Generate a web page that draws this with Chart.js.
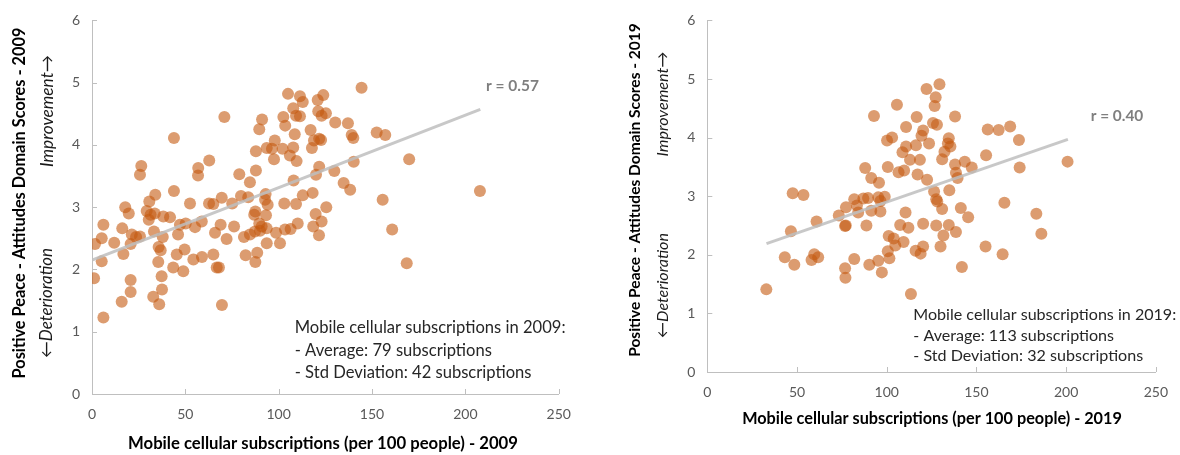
<!DOCTYPE html>
<html>
<head>
<meta charset="utf-8">
<script src="https://cdn.jsdelivr.net/npm/chart.js@4.4.1/dist/chart.umd.min.js"></script>
<style>
    html, body { margin: 0; padding: 0; background: #fff; }
    #wrap { position: relative; width: 1180px; height: 455px; }
    .box { position: absolute; top: 0; width: 590px; height: 455px; }
    #box2009 { left: 0; }
    #box2019 { left: 590px; }
</style>
</head>
<body>
<div id="wrap">
    <div class="box" id="box2009"><canvas id="chart2009" width="590" height="455"></canvas></div>
    <div class="box" id="box2019"><canvas id="chart2019" width="590" height="455"></canvas></div>
</div>
<script>
// ---------- datos ----------
const subs2009 = [
    144.4, 105.0, 111.4, 112.9, 120.9, 123.9, 107.8, 102.5, 109.3, 111.4,
    121.2, 123.0, 125.3, 130.3, 137.1, 70.9, 91.1, 89.6, 103.5, 108.6,
    117.1, 118.9, 121.7, 122.7, 139.1, 140.0, 43.9, 97.9, 93.6, 96.4,
    87.8, 102.1, 107.8, 106.0, 109.6, 97.5, 117.8, 62.8, 56.9, 56.8,
    87.8, 78.9, 84.6, 108.0, 121.7, 120.0, 129.8, 140.2, 134.8, 138.3,
    43.9, 69.5, 65.0, 62.7, 75.1, 79.8, 83.7, 93.0, 92.7, 94.1,
    52.5, 103.0, 109.3, 112.9, 118.2, 125.5, 119.8, 123.0, 118.5, 121.6,
    87.5, 86.9, 93.2, 89.6, 90.9, 93.6, 90.0, 76.1, 68.9, 65.9,
    58.8, 55.2, 50.2, 47.1, 41.8, 46.1, 72.1, 81.4, 84.6, 87.3,
    98.6, 103.4, 106.4, 110.2, 93.6, 100.7, 49.6, 45.4, 43.5, 65.0,
    58.9, 54.3, 48.9, 66.8, 68.0, 82.3, 88.5, 87.5, 26.4, 25.7,
    33.9, 30.7, 17.8, 19.7, 29.3, 31.4, 30.4, 33.6, 38.2, 6.1,
    1.6, 5.2, 11.9, 5.2, 1.1, 16.8, 16.2, 21.3, 20.7, 23.6,
    25.7, 20.7, 20.7, 15.9, 6.1, 32.8, 36.0, 37.5, 37.3, 35.5,
    36.8, 35.7, 33.2, 37.9, 69.6, 152.5, 157.1, 169.9, 207.8, 155.7,
    160.8, 168.6
];
const score2009 = [
    4.92, 4.82, 4.78, 4.69, 4.72, 4.80, 4.59, 4.45, 4.47, 4.46,
    4.54, 4.47, 4.51, 4.36, 4.35, 4.45, 4.41, 4.25, 4.31, 4.17,
    4.24, 4.07, 4.10, 4.08, 4.16, 4.11, 4.11, 4.07, 3.95, 3.94,
    3.90, 3.94, 3.96, 3.83, 3.74, 3.77, 3.95, 3.75, 3.63, 3.51,
    3.59, 3.53, 3.40, 3.43, 3.65, 3.52, 3.58, 3.73, 3.39, 3.28,
    3.26, 3.15, 3.05, 3.06, 3.06, 3.18, 3.16, 3.21, 3.12, 3.04,
    3.06, 3.06, 3.05, 3.19, 3.23, 3.00, 2.89, 2.77, 2.69, 2.55,
    2.93, 2.88, 2.87, 2.74, 2.69, 2.66, 2.62, 2.69, 2.72, 2.59,
    2.77, 2.68, 2.74, 2.72, 2.84, 2.56, 2.49, 2.52, 2.56, 2.61,
    2.59, 2.64, 2.65, 2.74, 2.42, 2.42, 2.32, 2.24, 2.03, 2.24,
    2.20, 2.16, 1.97, 2.03, 2.03, 2.23, 2.27, 2.12, 3.66, 3.52,
    3.20, 3.09, 3.00, 2.90, 2.94, 2.88, 2.80, 2.90, 2.85, 2.72,
    2.41, 2.50, 2.43, 2.13, 1.86, 2.25, 2.66, 2.56, 2.41, 2.52,
    2.53, 1.83, 1.64, 1.48, 1.23, 1.56, 1.44, 1.68, 1.89, 2.12,
    2.31, 2.36, 2.61, 2.52, 1.43, 4.20, 4.16, 3.77, 3.26, 3.12,
    2.64, 2.10
];

const subs2019 = [
    32.9, 43.2, 48.5, 46.6, 47.6, 53.6, 59.6, 58.1, 61.8, 60.9,
    73.3, 77.3, 76.8, 77.2, 76.8, 77.0, 81.9, 81.9, 83.4, 84.1,
    87.0, 89.6, 95.3, 98.9, 96.5, 96.5, 91.4, 88.7, 92.9, 88.0,
    91.4, 95.7, 90.3, 95.3, 97.3, 129.4, 122.2, 127.3, 126.7, 105.7,
    116.7, 138.1, 110.8, 125.8, 128.0, 120.3, 119.4, 123.6, 103.0, 100.2,
    110.8, 108.8, 116.3, 134.6, 134.1, 135.5, 132.2, 130.9, 113.0, 118.5,
    100.6, 106.6, 109.7, 117.2, 122.5, 138.1, 138.6, 139.5, 143.5, 134.9,
    126.4, 127.6, 130.9, 141.3, 110.5, 107.5, 112.1, 120.3, 127.6, 134.6,
    138.6, 131.6, 101.1, 103.9, 109.4, 104.8, 130.0, 120.3, 116.1, 118.9,
    100.6, 101.5, 141.9, 113.5, 156.3, 162.4, 168.8, 173.7, 200.8, 174.1,
    155.4, 147.4, 128.2, 145.4, 165.6, 183.4, 186.2, 155.1, 164.6
];
const score2019 = [
    1.41, 1.96, 1.83, 2.40, 3.05, 3.02, 2.01, 1.91, 1.96, 2.57,
    2.67, 2.81, 2.49, 2.50, 1.77, 1.61, 1.93, 2.95, 2.84, 2.72,
    2.96, 2.97, 2.98, 2.99, 2.92, 2.74, 2.75, 2.50, 4.37, 3.48,
    3.31, 3.23, 1.83, 1.90, 1.70, 4.91, 4.83, 4.69, 4.54, 4.56,
    4.35, 4.36, 4.18, 4.25, 4.22, 4.12, 4.03, 3.90, 4.00, 3.95,
    3.85, 3.75, 3.87, 3.99, 3.90, 3.85, 3.76, 3.63, 3.62, 3.62,
    3.50, 3.41, 3.44, 3.37, 3.28, 3.54, 3.40, 3.31, 3.59, 3.10,
    3.08, 2.95, 2.78, 2.80, 2.72, 2.51, 2.46, 2.53, 2.50, 2.51,
    2.39, 2.33, 2.32, 2.28, 2.22, 2.16, 2.14, 2.14, 2.07, 2.02,
    2.06, 1.94, 1.79, 1.33, 4.14, 4.13, 4.19, 3.96, 3.59, 3.49,
    3.70, 3.49, 2.91, 2.64, 2.89, 2.70, 2.36, 2.14, 2.01
];

// línea de tendencia (extremos)
const trendX2009 = [0, 208];
const trendY2009 = [2.15, 4.57];
const trendX2019 = [33, 201];
const trendY2019 = [2.19, 3.97];

const xRange = [0, 250, 50];
const yRange = [0, 6, 1];

const FONT = 'Lato, "Open Sans", sans-serif';
const POINT_COLOR = 'rgba(197,90,17,0.6)';
const AXIS_COLOR = '#bfbfbf';

// ---------- texto ajustado a un ancho ----------
function fitText(ctx, text, x, y, width, style, color, opts = {}) {
    ctx.save();
    ctx.font = `${style} 20px ${FONT}`;
    const size = 20 * width / ctx.measureText(text).width;
    ctx.font = `${style} ${size.toFixed(2)}px ${FONT}`;
    ctx.fillStyle = color;
    ctx.textBaseline = 'middle';
    ctx.textAlign = opts.align || 'center';
    ctx.translate(x, y);
    if (opts.rotate) ctx.rotate(-Math.PI / 2);
    ctx.fillText(text, 0, 0);
    ctx.restore();
    return size;
}

const extras = {
    id: 'extras',
    afterDraw(chart, args, o) {
        const ctx = chart.ctx;
        const { left, bottom } = chart.chartArea;
        const xs = chart.scales.x;
        const ys = chart.scales.y;

        // marcas hacia dentro
        ctx.save();
        ctx.strokeStyle = AXIS_COLOR;
        ctx.lineWidth = 1;
        xs.ticks.forEach(t => {
            const x = Math.round(xs.getPixelForValue(t.value)) + 0.5;
            ctx.beginPath();
            ctx.moveTo(x, bottom);
            ctx.lineTo(x, bottom - 5);
            ctx.stroke();
        });
        ys.ticks.forEach(t => {
            const y = Math.round(ys.getPixelForValue(t.value)) + 0.5;
            ctx.beginPath();
            ctx.moveTo(left, y);
            ctx.lineTo(left + 5, y);
            ctx.stroke();
        });
        ctx.restore();

        fitText(ctx, o.yTitle.text, o.yTitle.x, o.yTitle.y, o.yTitle.w, 'bold', '#000', { rotate: true });
        fitText(ctx, o.up.text, o.up.x, o.up.y, o.up.w, 'italic', '#1a1a1a', { rotate: true });
        fitText(ctx, o.down.text, o.down.x, o.down.y, o.down.w, 'italic', '#1a1a1a', { rotate: true });
        fitText(ctx, o.xTitle.text, o.xTitle.x, o.xTitle.y, o.xTitle.w, 'bold', '#000');
        fitText(ctx, o.r.text, o.r.x, o.r.y, o.r.w, 'bold', '#7f7f7f', { align: 'left' });

        const n = o.note;
        const size = fitText(ctx, n.lines[0], n.x, n.y, n.w, 'normal', '#262626', { align: 'left' });
        ctx.save();
        ctx.font = `normal ${size.toFixed(2)}px ${FONT}`;
        ctx.fillStyle = '#262626';
        ctx.textBaseline = 'middle';
        ctx.textAlign = 'left';
        for (let i = 1; i < n.lines.length; i++) {
            ctx.fillText(n.lines[i], n.x, n.y + n.gap * i);
        }
        ctx.restore();
    }
};

// ---------- crear gráfica ----------
function createChart(canvasId, xs, ys, tx, ty, area, texts) {
    const points = xs.map((x, i) => ({ x: x, y: ys[i] }));
    const trend = tx.map((x, i) => ({ x: x, y: ty[i] }));

    const tickStyle = {
        color: '#595959',
        font: { family: FONT, size: 14 },
        padding: 12
    };

    return new Chart(document.getElementById(canvasId), {
        type: 'scatter',
        data: {
            datasets: [
                {
                    label: 'trend',
                    data: trend,
                    showLine: true,
                    borderColor: 'rgba(190,190,190,0.85)',
                    borderWidth: 3,
                    pointRadius: 0,
                    order: 0
                },
                {
                    label: 'points',
                    data: points,
                    backgroundColor: POINT_COLOR,
                    borderWidth: 0,
                    pointRadius: 6,
                    order: 1
                }
            ]
        },
        options: {
            responsive: false,
            animation: false,
            layout: {
                padding: { left: 0, top: area.top, right: 590 - area.right, bottom: 0 }
            },
            plugins: {
                legend: { display: false },
                tooltip: { enabled: false },
                extras: texts
            },
            scales: {
                x: {
                    type: 'linear',
                    min: xRange[0],
                    max: xRange[1],
                    ticks: { ...tickStyle, stepSize: xRange[2] },
                    grid: { display: false, drawTicks: false },
                    border: { display: true, color: AXIS_COLOR, width: 1 },
                    afterFit: (s) => { s.height = 455 - area.bottom; }
                },
                y: {
                    type: 'linear',
                    min: yRange[0],
                    max: yRange[1],
                    ticks: { ...tickStyle, stepSize: yRange[2] },
                    grid: { display: false, drawTicks: false },
                    border: { display: true, color: AXIS_COLOR, width: 1 },
                    afterFit: (s) => { s.width = area.left; }
                }
            }
        },
        plugins: [extras]
    });
}

createChart('chart2009', subs2009, score2009, trendX2009, trendY2009,
    { left: 92, top: 17, right: 558.7, bottom: 394 },
    {
        yTitle: { text: 'Positive Peace - Attitudes Domain Scores - 2009', x: 20, y: 203, w: 351 },
        up: { text: 'Improvement→', x: 47, y: 111, w: 112 },
        down: { text: '←Deterioration', x: 47, y: 303, w: 110 },
        xTitle: { text: 'Mobile cellular subscriptions (per 100 people) - 2009', x: 323, y: 444, w: 390 },
        r: { text: 'r = 0.57', x: 486, y: 86, w: 53 },
        note: {
            lines: ['Mobile cellular subscriptions in 2009:', '- Average: 79 subscriptions', '- Std Deviation: 42 subscriptions'],
            x: 294.7, y: 328, gap: 22.2, w: 271
        }
    });

createChart('chart2019', subs2019, score2019, trendX2019, trendY2019,
    { left: 117.3, top: 15.3, right: 573, bottom: 372 },
    {
        yTitle: { text: 'Positive Peace - Attitudes Domain Scores - 2019', x: 45, y: 190, w: 334 },
        up: { text: 'Improvement→', x: 72.7, y: 104, w: 105 },
        down: { text: '←Deterioration', x: 72.7, y: 285.5, w: 105 },
        xTitle: { text: 'Mobile cellular subscriptions (per 100 people) - 2019', x: 342, y: 418.3, w: 380 },
        r: { text: 'r = 0.40', x: 500.7, y: 116, w: 52.6 },
        note: {
            lines: ['Mobile cellular subscriptions in 2019:', '- Average: 113 subscriptions', '- Std Deviation: 32 subscriptions'],
            x: 323.3, y: 315, gap: 20.5, w: 263
        }
    });
</script>
</body>
</html>
